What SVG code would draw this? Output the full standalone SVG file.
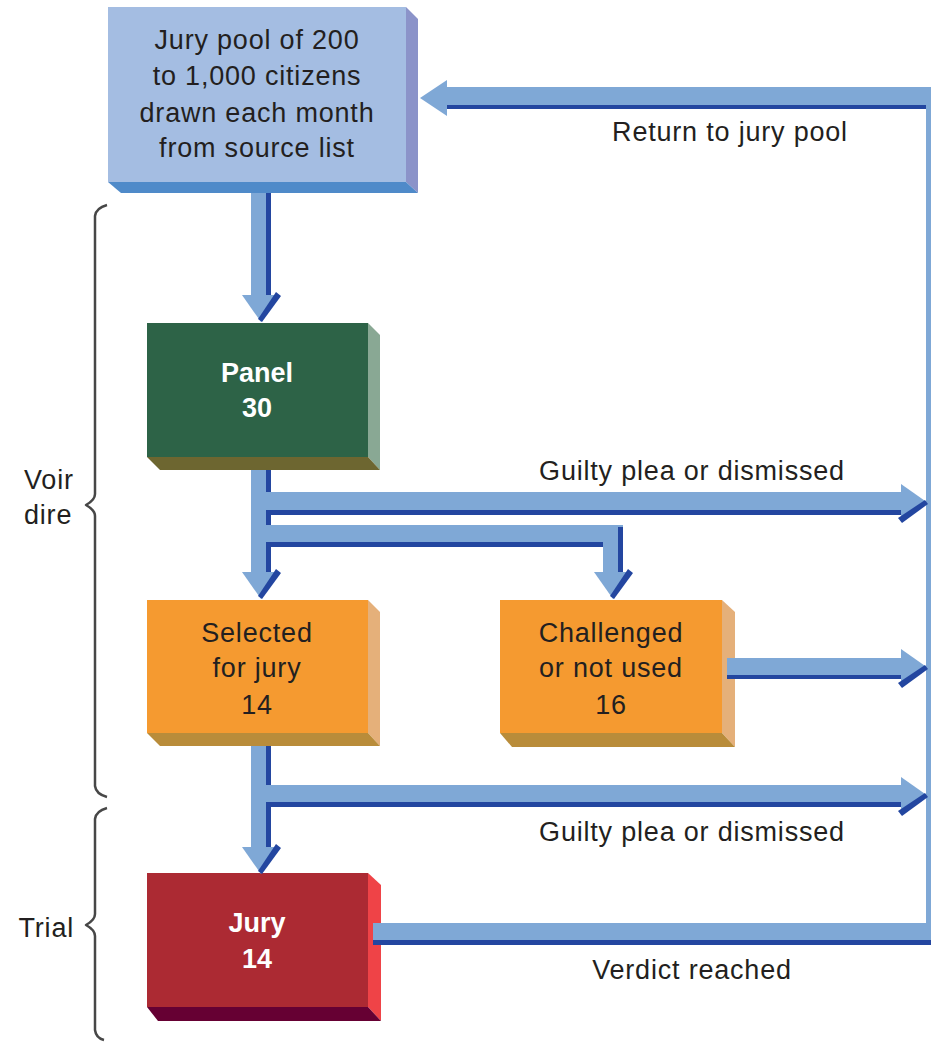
<svg xmlns="http://www.w3.org/2000/svg" width="931" height="1042" viewBox="0 0 931 1042">
<style>
.lt{fill:#7fa8d6}
.dk{fill:#2346a0}
.t{font-family:"Liberation Sans",Arial,sans-serif;font-size:27px;letter-spacing:0.8px;fill:#231f20;text-anchor:middle}
.tl{font-family:"Liberation Sans",Arial,sans-serif;font-size:27px;letter-spacing:0.8px;fill:#231f20}
.tb{font-family:"Liberation Sans",Arial,sans-serif;font-size:27px;font-weight:bold;fill:#ffffff;text-anchor:middle}
.br{fill:none;stroke:#474747;stroke-width:2.5;stroke-linejoin:round}
</style>
<defs>
<g id="ahd">
<polygon class="lt" points="-19,-27 19,-27 0,0"/>
<polygon class="dk" points="15,-30 20,-26 1,0 -3,-3"/>
</g>
<polygon id="ahl" class="lt" points="0,0 27,-18 27,18"/>
</defs>
<rect width="931" height="1042" fill="#ffffff"/>

<g id="pool">
<rect x="108" y="7" width="298" height="175" fill="#a4bde2"/>
<polygon points="406,7 418,19 418,193 406,182" fill="#8b93c9"/>
<polygon points="108,182 406,182 418,193 121,193" fill="#4f8ac9"/>
<text class="t" x="257" y="49">Jury pool of 200</text>
<text class="t" x="257" y="85">to 1,000 citizens</text>
<text class="t" x="257" y="122">drawn each month</text>
<text class="t" x="257" y="157">from source list</text>
</g>

<g id="panel">
<rect x="147" y="323" width="221" height="134" fill="#2d6347"/>
<polygon points="368,323 380,335 380,470 368,457" fill="#89a894"/>
<polygon points="147,457 368,457 380,470 160,470" fill="#6d6630"/>
<text class="tb" x="257" y="382">Panel</text>
<text class="tb" x="257" y="417">30</text>
</g>

<g id="selected">
<rect x="147" y="600" width="221" height="133" fill="#f59a30"/>
<polygon points="368,600 380,612 380,746 368,733" fill="#e5b07a"/>
<polygon points="147,733 368,733 380,746 160,746" fill="#b98c3a"/>
<text class="t" x="257" y="642">Selected</text>
<text class="t" x="257" y="677">for jury</text>
<text class="t" x="257" y="714">14</text>
</g>

<g id="challenged">
<rect x="500" y="600" width="222" height="133" fill="#f59a30"/>
<polygon points="722,600 735,612 735,747 722,733" fill="#e5b07a"/>
<polygon points="500,733 722,733 735,747 512,747" fill="#b98c3a"/>
<text class="t" x="611" y="642">Challenged</text>
<text class="t" x="611" y="677">or not used</text>
<text class="t" x="611" y="714">16</text>
</g>

<g id="jury">
<rect x="147" y="873" width="221" height="134" fill="#ac2a33"/>
<polygon points="368,873 381,885 381,1021 368,1007" fill="#ef4347"/>
<polygon points="147,1007 368,1007 381,1021 158,1021" fill="#660033"/>
<text class="tb" x="257" y="932">Jury</text>
<text class="tb" x="257" y="968">14</text>
</g>

<g id="connectors">
<!-- pool to panel -->
<rect class="lt" x="251" y="193" width="20" height="103"/>
<rect class="dk" x="266" y="193" width="5" height="103"/>
<use href="#ahd" transform="translate(261,322)"/>
<!-- return to jury pool -->
<rect class="lt" x="445" y="87" width="486" height="22"/>
<rect class="dk" x="445" y="105" width="481" height="4"/>
<use href="#ahl" transform="translate(420,98)"/>
<!-- right vertical -->
<rect class="lt" x="926" y="87" width="5" height="858"/>
<!-- panel down -->
<rect class="lt" x="251" y="470" width="20" height="103"/>
<rect class="dk" x="266" y="470" width="5" height="22"/>
<rect class="dk" x="266" y="515" width="5" height="10"/>
<rect class="dk" x="266" y="547" width="5" height="26"/>
<use href="#ahd" transform="translate(261,599)"/>
<!-- branch 1 -->
<rect class="lt" x="266" y="492" width="638" height="23"/>
<rect class="dk" x="266" y="510" width="638" height="5"/>
<use href="#ahd" transform="translate(928,503) matrix(0 1 1 0 0 0)"/>
<!-- branch 2 -->
<rect class="lt" x="266" y="525" width="357" height="22"/>
<rect class="dk" x="266" y="542" width="352" height="5"/>
<rect class="lt" x="603" y="525" width="20" height="48"/>
<rect class="dk" x="618" y="527" width="5" height="46"/>
<use href="#ahd" transform="translate(613,599)"/>
<!-- challenged out -->
<rect class="lt" x="727" y="658" width="177" height="21"/>
<rect class="dk" x="727" y="675" width="177" height="4"/>
<use href="#ahd" transform="translate(928,668) matrix(0 1 1 0 0 0)"/>
<!-- selected down -->
<rect class="lt" x="251" y="746" width="20" height="102"/>
<rect class="dk" x="266" y="746" width="5" height="39"/>
<rect class="dk" x="266" y="807" width="5" height="41"/>
<use href="#ahd" transform="translate(261,874)"/>
<!-- branch 3 -->
<rect class="lt" x="266" y="785" width="638" height="22"/>
<rect class="dk" x="266" y="802" width="638" height="5"/>
<use href="#ahd" transform="translate(928,796) matrix(0 1 1 0 0 0)"/>
<!-- verdict -->
<rect class="lt" x="373" y="923" width="558" height="22"/>
<rect class="dk" x="373" y="940" width="558" height="5"/>
</g>

<g id="labels">
<text class="t" x="730" y="141">Return to jury pool</text>
<text class="t" x="692" y="480">Guilty plea or dismissed</text>
<text class="t" x="692" y="841">Guilty plea or dismissed</text>
<text class="t" x="692" y="979">Verdict reached</text>
</g>

<g id="brackets">
<path class="br" d="M107,205 Q96,208 95,216 L95,494 Q95,500 86,505 Q95,510 95,516 L95,786 Q96,794 107,797"/>
<path class="br" d="M107,808 Q96,811 95,819 L95,914 Q95,920 86,925 Q95,930 95,936 L95,1030 Q96,1038 104,1040"/>
<text class="tl" x="24" y="489">Voir</text>
<text class="tl" x="24" y="524">dire</text>
<text class="tl" x="74" y="937" style="text-anchor:end">Trial</text>
</g>
</svg>
